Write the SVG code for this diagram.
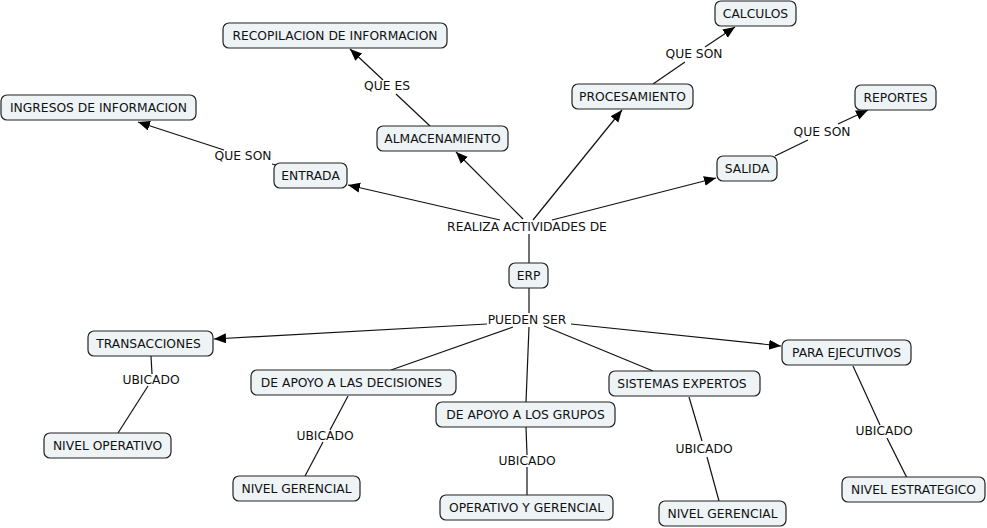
<svg xmlns="http://www.w3.org/2000/svg" width="987" height="528" viewBox="0 0 987 528">
<style>
.n rect{fill:#eef3f6;stroke:#222;stroke-width:1.2}
text{font-family:"DejaVu Sans",Verdana,sans-serif;font-size:12.3px;fill:#111;text-anchor:middle}
.c line{stroke:#111;stroke-width:1.2}
</style>
<defs>
<marker id="a" markerUnits="userSpaceOnUse" markerWidth="13" markerHeight="11" refX="12" refY="5" orient="auto">
<path d="M0,0 L12,5 L0,10 z" fill="#000"/>
</marker>
</defs>
<rect width="987" height="528" fill="#fff"/>
<g class="c">
<line x1="276" y1="165" x2="272" y2="164"/>
<line x1="224" y1="150" x2="138" y2="122" marker-end="url(#a)"/>
<line x1="430" y1="126" x2="396" y2="94"/>
<line x1="383" y1="80" x2="350" y2="49" marker-end="url(#a)"/>
<line x1="500" y1="220" x2="348" y2="185" marker-end="url(#a)"/>
<line x1="523" y1="219" x2="456" y2="152" marker-end="url(#a)"/>
<line x1="533" y1="220" x2="622" y2="110" marker-end="url(#a)"/>
<line x1="552" y1="220" x2="716" y2="178" marker-end="url(#a)"/>
<line x1="529" y1="263" x2="529" y2="234"/>
<line x1="653" y1="84" x2="685" y2="62"/>
<line x1="705" y1="47" x2="735" y2="27" marker-end="url(#a)"/>
<line x1="775" y1="156" x2="808" y2="140"/>
<line x1="838" y1="124" x2="868" y2="110" marker-end="url(#a)"/>
<line x1="529" y1="288" x2="529" y2="313"/>
<line x1="487" y1="324" x2="214" y2="339" marker-end="url(#a)"/>
<line x1="513" y1="327" x2="391" y2="370"/>
<line x1="529" y1="327" x2="526" y2="402"/>
<line x1="544" y1="326" x2="653" y2="371"/>
<line x1="571" y1="324" x2="781" y2="346" marker-end="url(#a)"/>
<line x1="151" y1="356" x2="152" y2="374"/>
<line x1="148" y1="386" x2="118" y2="433"/>
<line x1="348" y1="396" x2="330" y2="430"/>
<line x1="323" y1="442" x2="305" y2="476"/>
<line x1="526" y1="427" x2="527" y2="455"/>
<line x1="527" y1="467" x2="527" y2="495"/>
<line x1="689" y1="397" x2="702" y2="441"/>
<line x1="707" y1="457" x2="719" y2="501"/>
<line x1="853" y1="366" x2="880" y2="425"/>
<line x1="887" y1="438" x2="907" y2="478"/>
</g>
<g id="labels">
<text x="243" y="160">QUE SON</text>
<text x="387" y="90">QUE ES</text>
<text x="527" y="231">REALIZA ACTIVIDADES DE</text>
<text x="694" y="58">QUE SON</text>
<text x="822" y="136">QUE SON</text>
<text x="527" y="324">PUEDEN SER</text>
<text x="151" y="384">UBICADO</text>
<text x="325" y="440">UBICADO</text>
<text x="527" y="465">UBICADO</text>
<text x="704" y="453">UBICADO</text>
<text x="884" y="435">UBICADO</text>
</g>
<g id="n1" class="n"><rect x="223" y="23" width="224" height="25" rx="6"/><text x="335" y="40">RECOPILACION DE INFORMACION</text></g>
<g id="n2" class="n"><rect x="1" y="95" width="195" height="25" rx="6"/><text x="98.5" y="112">INGRESOS DE INFORMACION</text></g>
<g id="n3" class="n"><rect x="377" y="126" width="131" height="25" rx="6"/><text x="442.5" y="143">ALMACENAMIENTO</text></g>
<g id="n4" class="n"><rect x="274" y="163" width="73" height="25" rx="6"/><text x="310.5" y="180">ENTRADA</text></g>
<g id="n5" class="n"><rect x="715" y="1" width="81" height="25" rx="6"/><text x="755.5" y="18">CALCULOS</text></g>
<g id="n6" class="n"><rect x="572" y="84" width="121" height="25" rx="6"/><text x="632.5" y="101">PROCESAMIENTO</text></g>
<g id="n7" class="n"><rect x="855" y="85" width="81" height="25" rx="6"/><text x="895.5" y="102">REPORTES</text></g>
<g id="n8" class="n"><rect x="717" y="156" width="60" height="25" rx="6"/><text x="747" y="173">SALIDA</text></g>
<g id="n9" class="n"><rect x="509" y="263" width="39" height="25" rx="6"/><text x="528.5" y="280">ERP</text></g>
<g id="n10" class="n"><rect x="88" y="331" width="125" height="25" rx="6"/><text x="148.5" y="348">TRANSACCIONES</text></g>
<g id="n11" class="n"><rect x="251" y="370" width="205" height="25" rx="6"/><text x="351.5" y="387">DE APOYO A LAS DECISIONES</text></g>
<g id="n12" class="n"><rect x="436" y="402" width="179" height="25" rx="6"/><text x="525.5" y="419">DE APOYO A LOS GRUPOS</text></g>
<g id="n13" class="n"><rect x="609" y="371" width="151" height="25" rx="6"/><text x="682" y="388">SISTEMAS EXPERTOS</text></g>
<g id="n14" class="n"><rect x="782" y="340" width="129" height="25" rx="6"/><text x="846.5" y="357">PARA EJECUTIVOS</text></g>
<g id="n15" class="n"><rect x="44" y="433" width="127" height="25" rx="6"/><text x="107.5" y="450">NIVEL OPERATIVO</text></g>
<g id="n16" class="n"><rect x="233" y="476" width="127" height="25" rx="6"/><text x="296.5" y="493">NIVEL GERENCIAL</text></g>
<g id="n17" class="n"><rect x="440" y="495" width="173" height="25" rx="6"/><text x="526.5" y="512">OPERATIVO Y GERENCIAL</text></g>
<g id="n18" class="n"><rect x="659" y="501" width="127" height="25" rx="6"/><text x="722.5" y="518">NIVEL GERENCIAL</text></g>
<g id="n19" class="n"><rect x="842" y="477" width="143" height="25" rx="6"/><text x="913.5" y="494">NIVEL ESTRATEGICO</text></g>
</svg>
